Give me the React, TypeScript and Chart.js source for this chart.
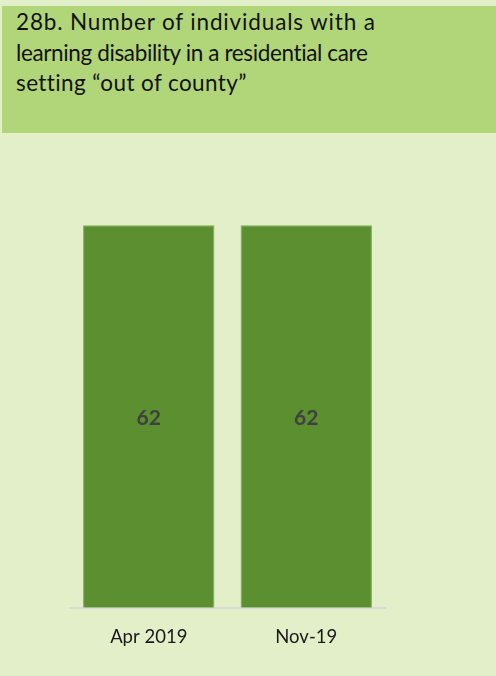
import React, { useEffect, useRef } from "react";
import { Chart, registerables } from "chart.js";

Chart.register(...registerables);

const categories = ["Apr 2019", "Nov-19"];
const values = [62, 62];
const titleLines = [
  "28b. Number of individuals with a",
  "learning disability in a residential care",
  "setting \u201cout of county\u201d",
];
const titleLineSpacing = [0.85, -0.37, 0.4];

const barLabelPlugin = {
  id: "barLabels",
  afterDatasetsDraw(chart: any) {
    const ctx = chart.ctx;
    const meta = chart.getDatasetMeta(0);
    ctx.save();
    ctx.font = "bold 21px Lato";
    ctx.fillStyle = "#404040";
    ctx.textAlign = "center";
    ctx.textBaseline = "middle";
    meta.data.forEach((bar: any, i: number) => {
      const y = (bar.y + bar.base) / 2;
      ctx.fillText(String(values[i]), bar.x, y + 2);
    });
    ctx.restore();
  },
};

export default function App() {
  const ref = useRef<HTMLCanvasElement | null>(null);
  useEffect(() => {
    if (!ref.current) return;
    const chart = new Chart(ref.current, {
      type: "bar",
      data: {
        labels: categories,
        datasets: [
          {
            data: values,
            backgroundColor: "#5b8f2f",
            borderColor: "#7faa55",
            borderWidth: { top: 1, left: 1, right: 1, bottom: 0 } as any,
            barPercentage: 0.834,
            categoryPercentage: 1,
          },
        ],
      },
      options: {
        animation: false,
        responsive: false,
        maintainAspectRatio: false,
        layout: { padding: { left: 70, right: 111, top: 43, bottom: 10 } },
        plugins: { legend: { display: false }, tooltip: { enabled: false } },
        scales: {
          y: { display: false, min: 0, max: 70 },
          x: {
            grid: { display: false, drawTicks: false },
            border: { display: true, color: "#d9d9d9", width: 2 },
            ticks: {
              color: "#1a1a1a",
              font: { family: "Lato", size: 18.5 },
              padding: 18,
            },
          },
        },
      },
      plugins: [barLabelPlugin],
    });
    return () => chart.destroy();
  }, []);

  return (
    <div
      style={{
        position: "absolute",
        left: 0,
        top: 0,
        width: 496,
        height: 676,
        background: "#e3efc8",
        overflow: "hidden",
      }}
    >
      <div
        style={{
          position: "absolute",
          left: 2,
          top: 6,
          width: 494,
          height: 127,
          background: "#b1d679",
          fontFamily: "Lato",
          fontSize: 22.5,
          lineHeight: "30.5px",
          color: "#111",
          paddingLeft: 14,
          paddingTop: 1,
          boxSizing: "border-box",
        }}
      >
        {titleLines.map((l, i) => (
          <div key={i} style={{ whiteSpace: "nowrap", letterSpacing: titleLineSpacing[i] }}>
            {l}
          </div>
        ))}
      </div>
      <canvas
        ref={ref}
        width={496}
        height={543}
        style={{ position: "absolute", left: 0, top: 133, width: 496, height: 543 }}
      />
    </div>
  );
}
